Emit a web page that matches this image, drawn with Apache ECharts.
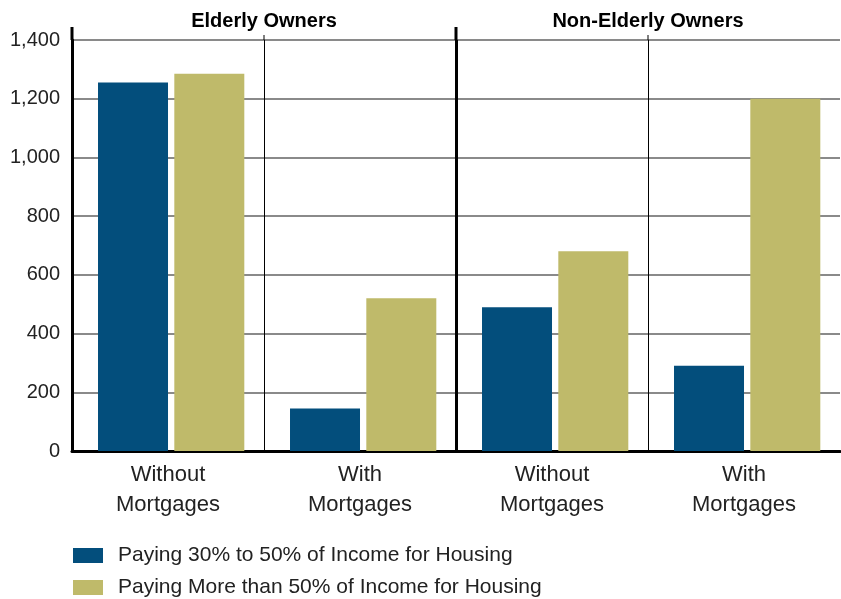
<!DOCTYPE html>
<html>
<head>
<meta charset="utf-8">
<script src="https://cdn.jsdelivr.net/npm/echarts@6/dist/echarts.min.js"></script>
<style>
  html, body { margin: 0; padding: 0; background: #fff; }
  #chart { width: 841px; height: 599px; }
</style>
</head>
<body>
<div id="chart"></div>
<script>
// data
const groups = ['Elderly Owners', 'Non-Elderly Owners']
const categories = ['Without\nMortgages', 'With\nMortgages', 'Without\nMortgages', 'With\nMortgages']
const paying30to50 = [1255, 145, 490, 290]
const payingOver50 = [1285, 520, 680, 1200]
const seriesNames = ['Paying 30% to 50% of Income for Housing', 'Paying More than 50% of Income for Housing']

const font = '"Liberation Sans", Arial, sans-serif'
const textColor = '#222'

const chart = echarts.init(document.getElementById('chart'))

const option = {
  animation: false,
  textStyle: { fontFamily: font },
  grid: { left: 72, right: 1, top: 40, bottom: 148, containLabel: false },
  legend: {
    orient: 'vertical',
    left: 73,
    top: 545,
    padding: 0,
    itemWidth: 30,
    itemHeight: 15,
    itemGap: 11,
    icon: 'rect',
    textStyle: { fontSize: 21, color: textColor, fontFamily: font, padding: [0, 0, 0, 10] },
    data: seriesNames
  },
  xAxis: [
    {
      type: 'category',
      data: categories,
      axisLine: { show: true, lineStyle: { color: '#000', width: 3 } },
      axisTick: { show: false },
      axisLabel: { fontSize: 22, color: textColor, lineHeight: 30, margin: 9, interval: 0 },
      splitLine: { show: true, showMinLine: false, showMaxLine: false, lineStyle: { color: '#000', width: 1 } }
    },
    {
      type: 'category',
      position: 'top',
      data: groups,
      axisLine: { show: false },
      axisTick: { show: false },
      axisLabel: { fontSize: 20, fontWeight: 'bold', color: '#000', margin: 9, interval: 0 },
      splitLine: { show: true, showMinLine: false, showMaxLine: false, lineStyle: { color: '#000', width: 3 } }
    }
  ],
  yAxis: {
    type: 'value',
    min: 0,
    max: 1400,
    interval: 200,
    axisLine: { show: true, lineStyle: { color: '#000', width: 3 } },
    axisTick: { show: false },
    axisLabel: {
      fontSize: 20,
      color: textColor,
      margin: 12,
      formatter: v => v.toLocaleString('en-US')
    },
    splitLine: { show: true, lineStyle: { color: '#8a8a8a', width: 2 } }
  },
  series: [
    {
      // empty spacer so the bar pair sits a little right of the band centre, like the source
      name: 'spacer',
      type: 'bar',
      data: categories.map(() => null),
      barWidth: 5.8,
      barGap: '9%',
      silent: true
    },
    {
      name: seriesNames[0],
      type: 'bar',
      data: paying30to50,
      barWidth: 70,
      barGap: '9%',
      itemStyle: { color: '#034e7c' }
    },
    {
      name: seriesNames[1],
      type: 'bar',
      data: payingOver50,
      barWidth: 70,
      barGap: '9%',
      itemStyle: { color: '#bfba6a' }
    }
  ]
}

chart.setOption(option)

// the axis line and dividers poke a little above the top gridline
const yTop = chart.convertToPixel({ yAxisIndex: 0 }, 1400)
const cx = categories.map((c, i) => chart.convertToPixel({ xAxisIndex: 0 }, i))
const band = cx[1] - cx[0]
const leftX = cx[0] - band / 2
const midX = (cx[1] + cx[2]) / 2
const thinXs = [(cx[0] + cx[1]) / 2, (cx[2] + cx[3]) / 2]

chart.setOption({
  graphic: [
    { type: 'line', shape: { x1: leftX, y1: yTop - 13, x2: leftX, y2: yTop }, style: { stroke: '#000', lineWidth: 3 } },
    { type: 'line', shape: { x1: midX, y1: yTop - 13, x2: midX, y2: yTop }, style: { stroke: '#000', lineWidth: 3 } },
    ...thinXs.map(x => ({ type: 'line', shape: { x1: x, y1: yTop - 5, x2: x, y2: yTop }, style: { stroke: '#000', lineWidth: 1 } }))
  ]
})

window.addEventListener('resize', () => chart.resize())
</script>
</body>
</html>
